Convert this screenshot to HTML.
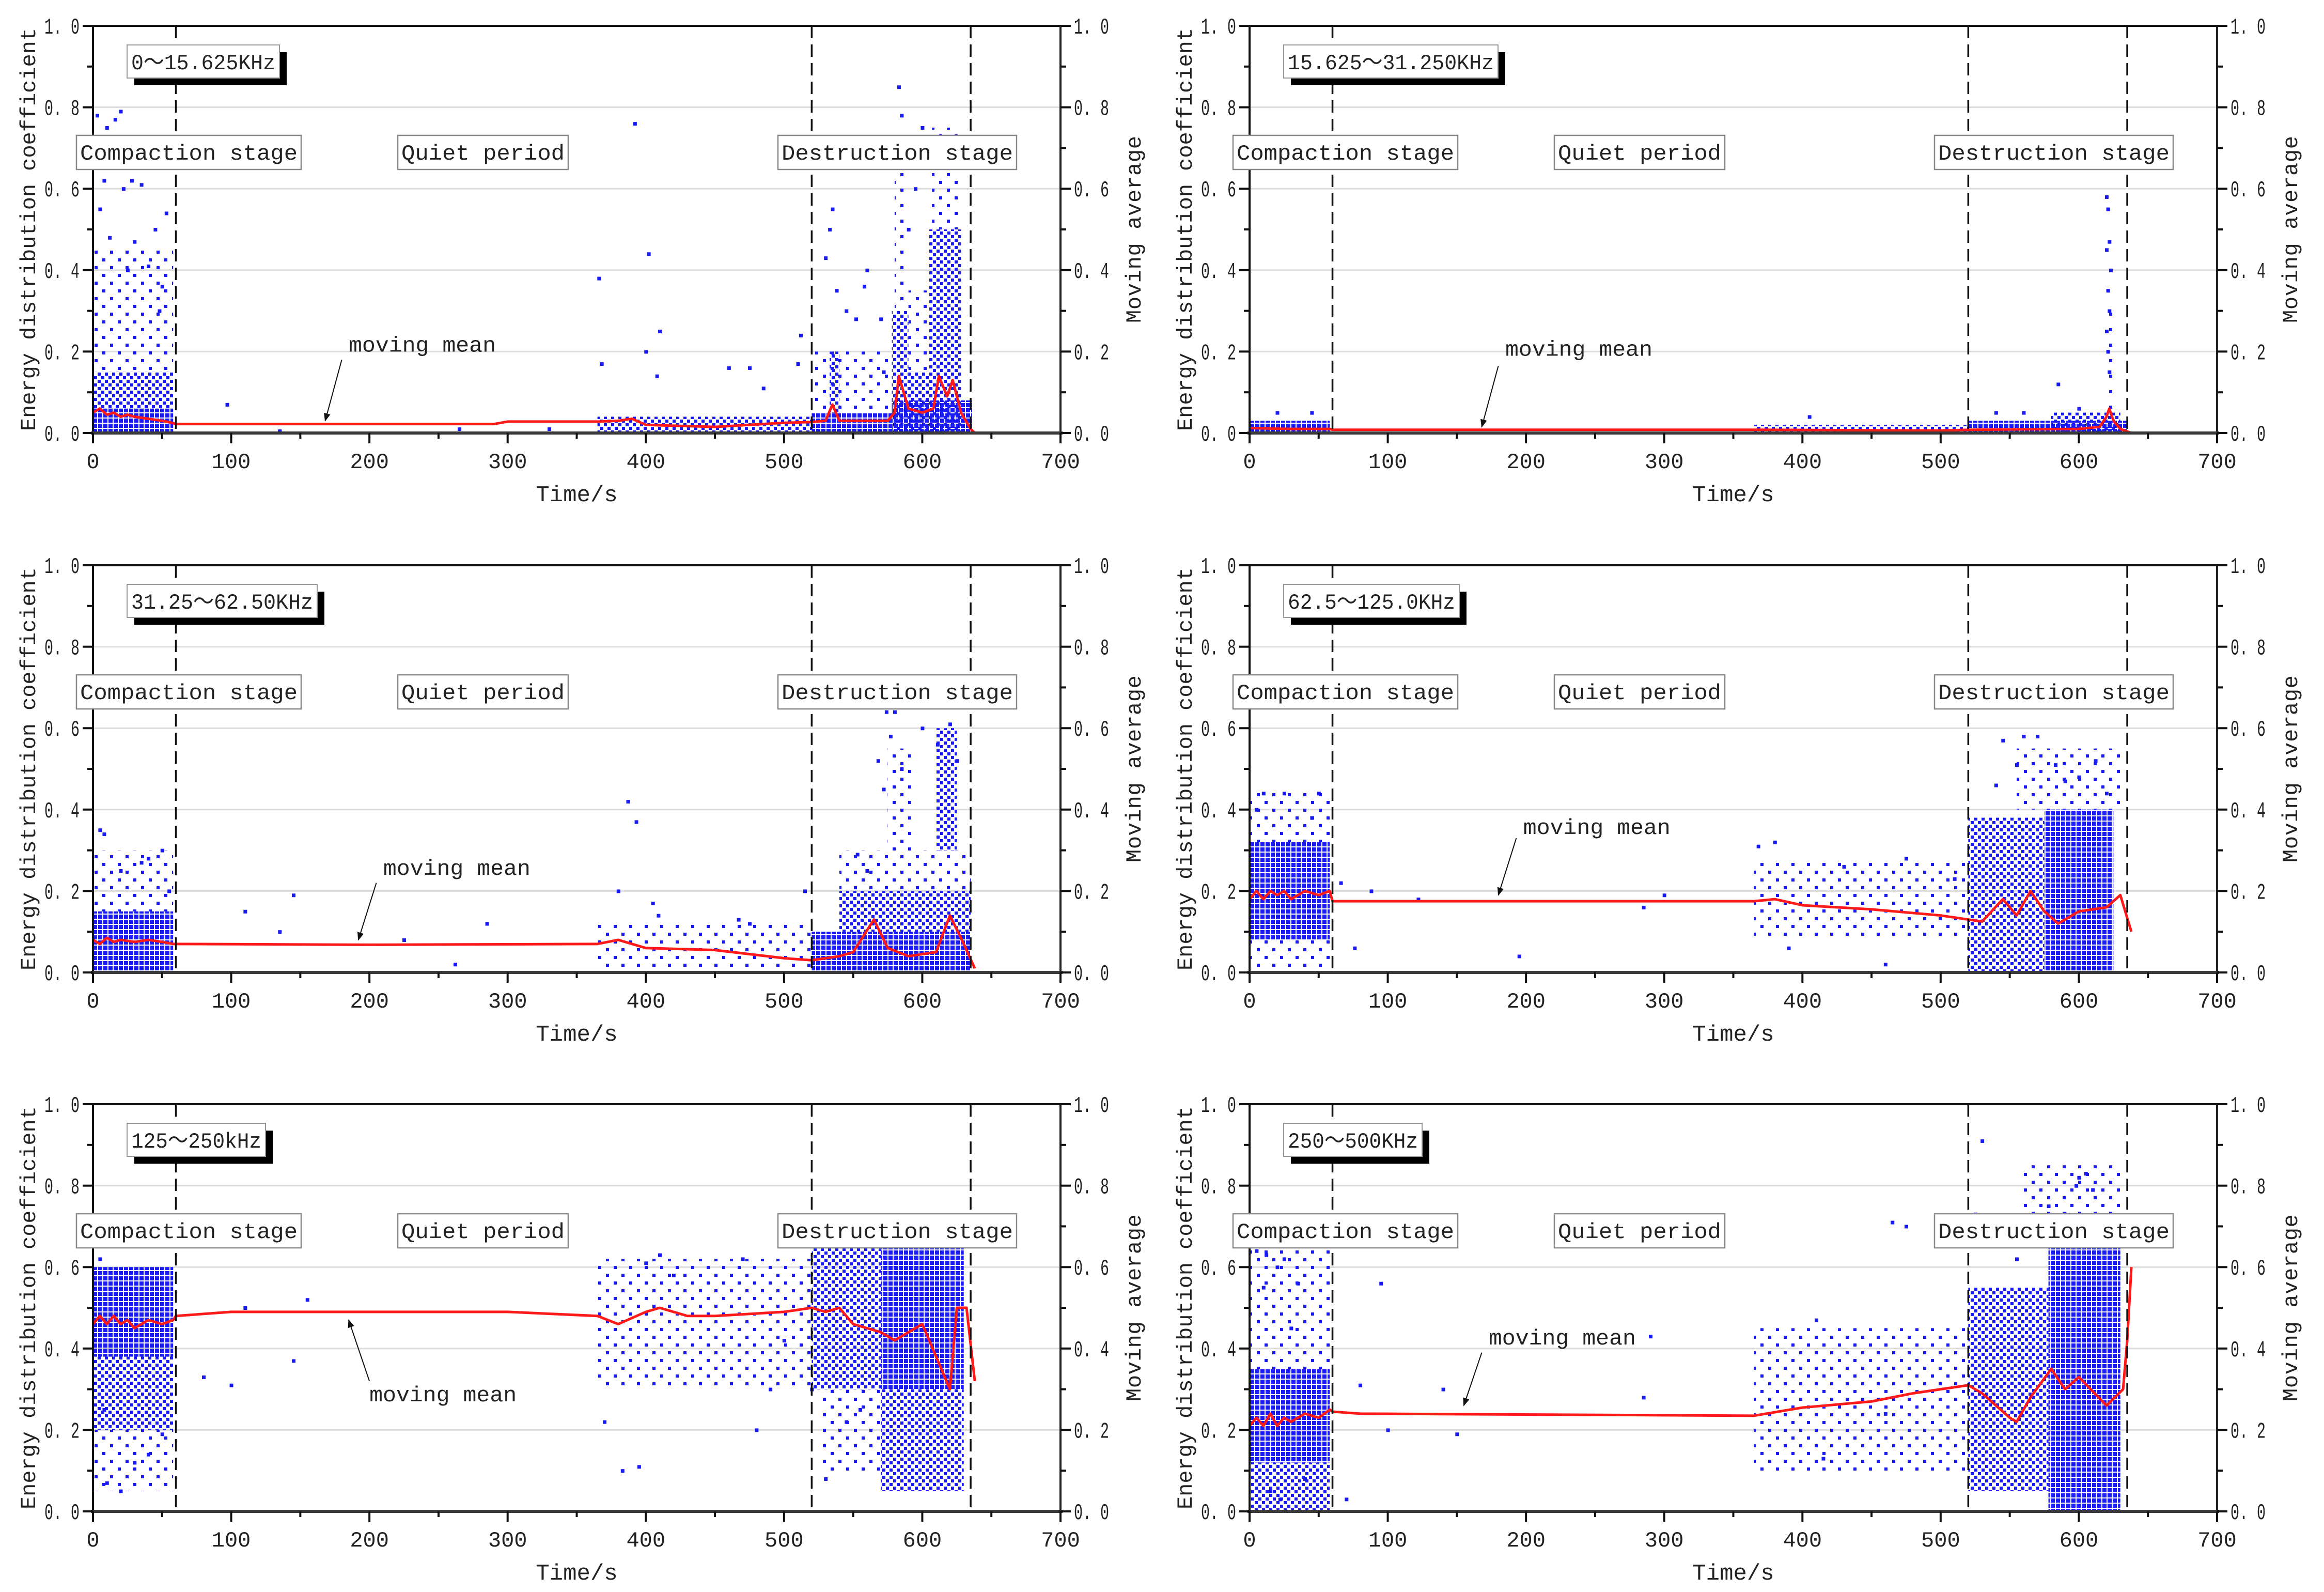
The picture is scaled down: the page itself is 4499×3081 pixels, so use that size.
<!DOCTYPE html>
<html><head><meta charset="utf-8"><style>
html,body{margin:0;padding:0;background:#fff}
svg{display:block}
text{font-family:"Liberation Mono","Noto Sans CJK SC",monospace;fill:#222}
</style></head><body>
<svg id="fig" xmlns="http://www.w3.org/2000/svg" width="4499" height="3081" viewBox="0 0 4499 3081">
<defs>
<pattern id="pDense" width="10" height="10" patternUnits="userSpaceOnUse"><rect x="0" y="0" width="8" height="8" fill="#1a1af2"/></pattern>
<pattern id="pMed" width="14" height="14" patternUnits="userSpaceOnUse"><rect x="0" y="0" width="6" height="6" fill="#1a1af2"/><rect x="7" y="7" width="6" height="6" fill="#1a1af2"/></pattern>
<pattern id="pSparse" width="30" height="30" patternUnits="userSpaceOnUse"><rect x="3" y="5" width="6" height="6" fill="#1a1af2"/><rect x="18" y="20" width="6" height="6" fill="#1a1af2"/></pattern>
<marker id="arr" viewBox="0 0 10 10" refX="9" refY="5" markerWidth="8" markerHeight="8" orient="auto"><path d="M0,1 L10,5 L0,9 z" fill="#111"/></marker>
</defs>
</svg>
<script>
// ---------- Panel 1 : 0~15.625KHz ----------
const p1MeanT=[0,5,10,15,20,25,30,40,50,57,60,100,200,290,300,365,380,390,400,450,500,520,530,535,540,545,575,580,583,590,600,608,612,618,622,628,635,638];
const p1MeanV=[.05,.06,.045,.05,.04,.045,.04,.035,.03,.025,.022,.022,.022,.022,.028,.028,.03,.035,.02,.015,.025,.027,.03,.07,.03,.03,.03,.05,.14,.06,.05,.06,.14,.09,.13,.05,.01,0];
const p1BandT0=[0,0,0,365,520,520,533,578,580,590,590,605,607,628,578];
const p1BandT1=[58,58,58,520,578,578,540,590,588,605,605,628,626,636,628];
const p1BandLo=[0,.06,.15,0,0,.05,.05,0,.3,0,.15,0,.5,0,0];
const p1BandHi=[.06,.15,.45,.04,.05,.2,.2,.3,.65,.15,.35,.5,.75,.08,.08];
const p1BandKind=[0,1,2,1,0,2,1,1,2,1,2,1,2,0,0];
const p1PtT=[3,10,16,20,8,22,28,35,5,12,30,45,50,53,25,40,48,392,402,366,368,410,408,400,460,475,485,510,512,535,533,530,538,560,558,552,545,583,585,600,595,590,570,572,97,135,330,265];
const p1PtV=[.78,.75,.77,.79,.62,.6,.62,.61,.55,.48,.47,.5,.36,.54,.4,.41,.3,.76,.44,.38,.17,.25,.14,.2,.16,.16,.11,.17,.24,.55,.5,.43,.35,.4,.36,.28,.3,.85,.78,.75,.6,.5,.28,.15,.07,.005,.01,.01];
// ---------- Panel 2 : 15.625~31.250KHz ----------
const p2MeanT=[0,30,58,60,300,365,500,520,600,615,620,622,625,630,638];
const p2MeanV=[.012,.01,.01,.008,.008,.008,.006,.008,.01,.015,.04,.06,.03,.01,0];
const p2BandT0=[0,365,520,580,619];
const p2BandT1=[58,520,635,630,625];
const p2BandLo=[0,0,0,0,0];
const p2BandHi=[.03,.02,.03,.05,.3];
const p2BandKind=[0,1,0,1,2];
const p2PtT=[620,621,622,620,623,621,622,620,621,622,585,600,560,540,405,20,45];
const p2PtV=[.58,.55,.47,.45,.4,.35,.3,.25,.2,.15,.12,.06,.05,.05,.04,.05,.05];
// ---------- Panel 3 : 31.25~62.50KHz ----------
const p3MeanT=[0,5,10,15,20,30,40,50,58,60,200,365,380,400,450,500,520,540,550,565,575,590,610,620,630,638];
const p3MeanV=[.08,.07,.085,.075,.08,.075,.08,.075,.07,.07,.068,.07,.08,.06,.055,.035,.03,.04,.05,.13,.06,.04,.05,.14,.07,.01];
const p3BandT0=[0,0,365,520,540,540,575,610];
const p3BandT1=[58,58,520,635,635,635,592,625];
const p3BandLo=[0,.15,0,0,.1,.2,.3,.3];
const p3BandHi=[.15,.3,.12,.1,.2,.3,.55,.6];
const p3BandKind=[0,2,2,0,1,2,2,1];
const p3PtT=[5,8,20,40,50,55,35,387,393,405,409,380,467,475,515,110,145,135,225,285,262,574,580,577,600,611,620,625,568,572,585,560,553];
const p3PtV=[.35,.34,.25,.28,.3,.2,.27,.42,.37,.17,.14,.2,.13,.12,.2,.15,.19,.1,.08,.12,.02,.64,.64,.58,.6,.56,.61,.52,.52,.45,.5,.25,.29];
// ---------- Panel 4 : 62.5~125.0KHz ----------
const p4MeanT=[0,5,10,15,20,25,30,40,50,58,60,365,380,400,450,500,520,530,545,555,565,575,585,600,620,630,638];
const p4MeanV=[.18,.2,.18,.2,.19,.2,.18,.2,.19,.2,.175,.175,.18,.165,.155,.14,.13,.125,.18,.14,.2,.15,.12,.15,.16,.19,.1];
const p4BandT0=[0,0,0,365,520,575,555];
const p4BandT1=[58,58,58,520,575,625,630];
const p4BandLo=[.08,0,.32,.08,0,0,.4];
const p4BandHi=[.32,.08,.45,.28,.38,.4,.55];
const p4BandKind=[0,2,2,2,1,0,2];
const p4PtT=[10,25,5,50,45,66,76,88,122,195,285,300,368,380,430,475,510,390,460,545,560,570,540,555,583,590,600,612,620];
const p4PtV=[.44,.44,.4,.44,.38,.22,.06,.2,.18,.04,.16,.19,.31,.32,.26,.28,.23,.06,.02,.57,.58,.58,.46,.51,.51,.47,.48,.52,.44];
// ---------- Panel 5 : 125~250kHz ----------
const p5MeanT=[0,5,10,15,20,25,30,40,50,58,60,100,300,365,380,400,410,430,450,500,520,530,540,550,570,580,600,620,625,632,638];
const p5MeanV=[.46,.48,.46,.48,.46,.47,.45,.47,.46,.47,.48,.49,.49,.48,.46,.49,.5,.48,.48,.49,.5,.49,.5,.46,.44,.42,.46,.3,.5,.5,.32];
const p5BandT0=[0,0,0,365,520,570,570,525];
const p5BandT1=[58,58,58,520,570,630,630,570];
const p5BandLo=[.38,.2,.05,.3,.3,.3,.05,.1];
const p5BandHi=[.6,.38,.2,.62,.65,.65,.3,.3];
const p5BandKind=[0,1,2,2,1,0,1,2];
const p5PtT=[5,10,20,30,40,50,8,80,110,100,145,155,370,383,395,400,410,420,470,480,490,500,520,530,545,555];
const p5PtV=[.62,.07,.05,.12,.14,.19,.25,.33,.5,.31,.37,.52,.22,.1,.11,.61,.63,.58,.62,.2,.3,.42,.3,.08,.22,.25];
// ---------- Panel 6 : 250~500KHz ----------
const p6MeanT=[0,5,10,15,20,25,30,40,50,58,60,80,365,400,450,480,520,530,540,550,555,565,580,590,600,620,632,635,638];
const p6MeanV=[.21,.23,.21,.24,.21,.23,.22,.24,.23,.25,.245,.24,.235,.255,.27,.29,.31,.29,.26,.23,.22,.28,.35,.3,.33,.26,.3,.42,.6];
const p6BandT0=[0,0,0,365,520,578,560];
const p6BandT1=[58,58,58,520,578,630,630];
const p6BandLo=[.12,0,.35,.1,.05,0,.65];
const p6BandHi=[.35,.12,.65,.45,.55,.65,.85];
const p6BandKind=[0,1,2,2,1,0,2];
const p6PtT=[5,12,20,25,10,35,30,15,22,40,70,80,95,100,140,150,290,285,410,465,475,415,460,530,525,545,555,590,600,605,610,598,578];
const p6PtV=[.64,.63,.6,.62,.55,.56,.45,.05,.03,.08,.03,.31,.56,.2,.3,.19,.43,.28,.47,.71,.7,.13,.24,.91,.73,.67,.62,.73,.82,.83,.79,.8,.75];

const xTicks=[0,100,200,300,400,500,600,700];
const yTicks=[0,0.2,0.4,0.6,0.8,1.0];
const stageT=[60,520,635];

const W=1873,H=788;
const panels=[
 {ox:180,oy:50,title:"0～15.625KHz",tw:295,mt:p1MeanT,mv:p1MeanV,b0:p1BandT0,b1:p1BandT1,bl:p1BandLo,bh:p1BandHi,bk:p1BandKind,pt:p1PtT,pv:p1PtV,lt:185,lv:.2,at:[180,.18,168,.03]},
 {ox:2419,oy:50,title:"15.625～31.250KHz",tw:415,mt:p2MeanT,mv:p2MeanV,b0:p2BandT0,b1:p2BandT1,bl:p2BandLo,bh:p2BandHi,bk:p2BandKind,pt:p2PtT,pv:p2PtV,lt:185,lv:.19,at:[180,.165,168,.015]},
 {ox:180,oy:1094,title:"31.25～62.50KHz",tw:368,mt:p3MeanT,mv:p3MeanV,b0:p3BandT0,b1:p3BandT1,bl:p3BandLo,bh:p3BandHi,bk:p3BandKind,pt:p3PtT,pv:p3PtV,lt:210,lv:.24,at:[205,.22,192,.08]},
 {ox:2419,oy:1094,title:"62.5～125.0KHz",tw:340,mt:p4MeanT,mv:p4MeanV,b0:p4BandT0,b1:p4BandT1,bl:p4BandLo,bh:p4BandHi,bk:p4BandKind,pt:p4PtT,pv:p4PtV,lt:198,lv:.34,at:[193,.33,180,.19]},
 {ox:180,oy:2137,title:"125～250kHz",tw:268,mt:p5MeanT,mv:p5MeanV,b0:p5BandT0,b1:p5BandT1,bl:p5BandLo,bh:p5BandHi,bk:p5BandKind,pt:p5PtT,pv:p5PtV,lt:200,lv:.27,at:[200,.32,185,.47]},
 {ox:2419,oy:2137,title:"250～500KHz",tw:268,mt:p6MeanT,mv:p6MeanV,b0:p6BandT0,b1:p6BandT1,bl:p6BandLo,bh:p6BandHi,bk:p6BandKind,pt:p6PtT,pv:p6PtV,lt:173,lv:.41,at:[168,.39,155,.26]}
];
const NS="http://www.w3.org/2000/svg";
const svg=document.getElementById('fig');
function mk(tag,attrs,parent,txt){const e=document.createElementNS(NS,tag);for(const k in attrs)e.setAttribute(k,attrs[k]);if(txt!==undefined)e.textContent=txt;parent.appendChild(e);return e;}
function fmt(v){return v.toFixed(1).replace('.','. ');}
const fills=['url(#pDense)','url(#pMed)','url(#pSparse)'];

panels.forEach((p,i)=>{
 const sx=t=>p.ox+t/700*W, sy=v=>p.oy+H-v*H;
 const g=mk('g',{},svg);
 
 
 [0.2,0.4,0.6,0.8].forEach(v=>{const l=mk('line',{x1:p.ox,x2:p.ox+W,y1:sy(v),y2:sy(v),stroke:'#dcdcdc','stroke-width':3},g);
  
  });
 p.b0.forEach((t0,j)=>{
  const r=mk('rect',{x:sx(t0),y:sy(p.bh[j]),width:sx(p.b1[j])-sx(t0),height:sy(p.bl[j])-sy(p.bh[j]),fill:fills[p.bk[j]]},g);
  
  });
 p.pt.forEach((t,j)=>{const r=mk('rect',{x:sx(t)-3,y:sy(p.pv[j])-3,width:7,height:7,fill:'#1a1af2'},g);
  
  });
 const pts=p.mt.map((t,j)=>sx(t)+','+sy(p.mv[j])).join(' ');
 const pl=mk('polyline',{points:pts,fill:'none',stroke:'#ff1a1a','stroke-width':5,'stroke-linejoin':'round'},g);
 
 
 stageT.forEach(t=>{const l=mk('line',{x1:sx(t),x2:sx(t),y1:p.oy,y2:p.oy+H,stroke:'#111','stroke-width':3.5,'stroke-dasharray':'24 12'},g);
  
  });
 const ax=[[p.ox,p.oy,p.ox+W,p.oy,'#111',4],[p.ox,p.oy,p.ox,p.oy+H,'#111',4],[p.ox+W,p.oy,p.ox+W,p.oy+H,'#222',4],[p.ox-4,p.oy+H,p.ox+W+4,p.oy+H,'#3a3a3a',6]];
 ax.forEach(a=>{const l=mk('line',{x1:a[0],y1:a[1],x2:a[2],y2:a[3],stroke:a[4],'stroke-width':a[5]},g);
  
  });
 for(let k=0;k<=10;k++){const v=k/10,len=k%2===0?20:11;
  mk('line',{x1:p.ox-len,x2:p.ox,y1:sy(v),y2:sy(v),stroke:'#111','stroke-width':4},g);
  mk('line',{x1:p.ox+W,x2:p.ox+W+len,y1:sy(v),y2:sy(v),stroke:'#111','stroke-width':4},g);}
 yTicks.forEach(v=>{
  const a=mk('text',{x:p.ox-26,y:sy(v)+15,'text-anchor':'end','font-size':44,textLength:68,lengthAdjust:'spacingAndGlyphs'},g,fmt(v));
  
  
  const b=mk('text',{x:p.ox+W+26,y:sy(v)+15,'font-size':44,textLength:68,lengthAdjust:'spacingAndGlyphs'},g,fmt(v));
  
  });
 for(let t=0;t<=700;t+=50){const len=t%100===0?20:11;mk('line',{x1:sx(t),x2:sx(t),y1:p.oy+H,y2:p.oy+H+len,stroke:'#111','stroke-width':4},g);}
 xTicks.forEach(t=>{const a=mk('text',{x:sx(t),y:p.oy+H+68,'text-anchor':'middle','font-size':42},g,String(t));
  
  });
 const xt=mk('text',{x:p.ox+W/2,y:p.oy+H+132,'text-anchor':'middle','font-size':44},g,'Time/s');
 
 
 const yt=mk('text',{x:0,y:0,'text-anchor':'middle','font-size':42,textLength:780,lengthAdjust:'spacing',transform:`translate(${p.ox-112},${p.oy+H/2}) rotate(-90)`},g,'Energy distribution coefficient');
 
 
 const y2=mk('text',{x:0,y:0,'text-anchor':'middle','font-size':42,textLength:362,lengthAdjust:'spacing',transform:`translate(${p.ox+W+155},${p.oy+H/2}) rotate(-90)`},g,'Moving average');
 
 
 mk('rect',{x:p.ox+80,y:p.oy+51,width:p.tw,height:64,fill:'#000'},g);
 const tb=mk('rect',{x:p.ox+66,y:p.oy+37,width:p.tw,height:64,fill:'#fff',stroke:'#999','stroke-width':2},g);
 
 
 const tt=mk('text',{x:p.ox+74,y:p.oy+84,'font-size':42,textLength:p.tw-16,lengthAdjust:'spacingAndGlyphs'},g,p.title);
 
 
 [['Compaction stage',-32,435,'compaction-stage-label'],['Quiet period',590,330,'quiet-period-label'],['Destruction stage',1326,462,'destruction-stage-label']].forEach(s=>{
  const r=mk('rect',{x:p.ox+s[1],y:p.oy+212,width:s[2],height:66,fill:'#fff',stroke:'#888','stroke-width':2.5},g);
  
  
  const t=mk('text',{x:p.ox+s[1]+s[2]/2,y:p.oy+259,'text-anchor':'middle','font-size':42,textLength:s[2]-14,lengthAdjust:'spacingAndGlyphs'},g,s[0]);
  
  });
 const ml=mk('text',{x:sx(p.lt),y:sy(p.lv),'font-size':42,textLength:285,lengthAdjust:'spacingAndGlyphs'},g,'moving mean');
 
 
 const ar=mk('line',{x1:sx(p.at[0]),y1:sy(p.at[1]),x2:sx(p.at[2]),y2:sy(p.at[3]),stroke:'#111','stroke-width':2,'marker-end':'url(#arr)'},g);
 
 
});
</script>
</body></html>
